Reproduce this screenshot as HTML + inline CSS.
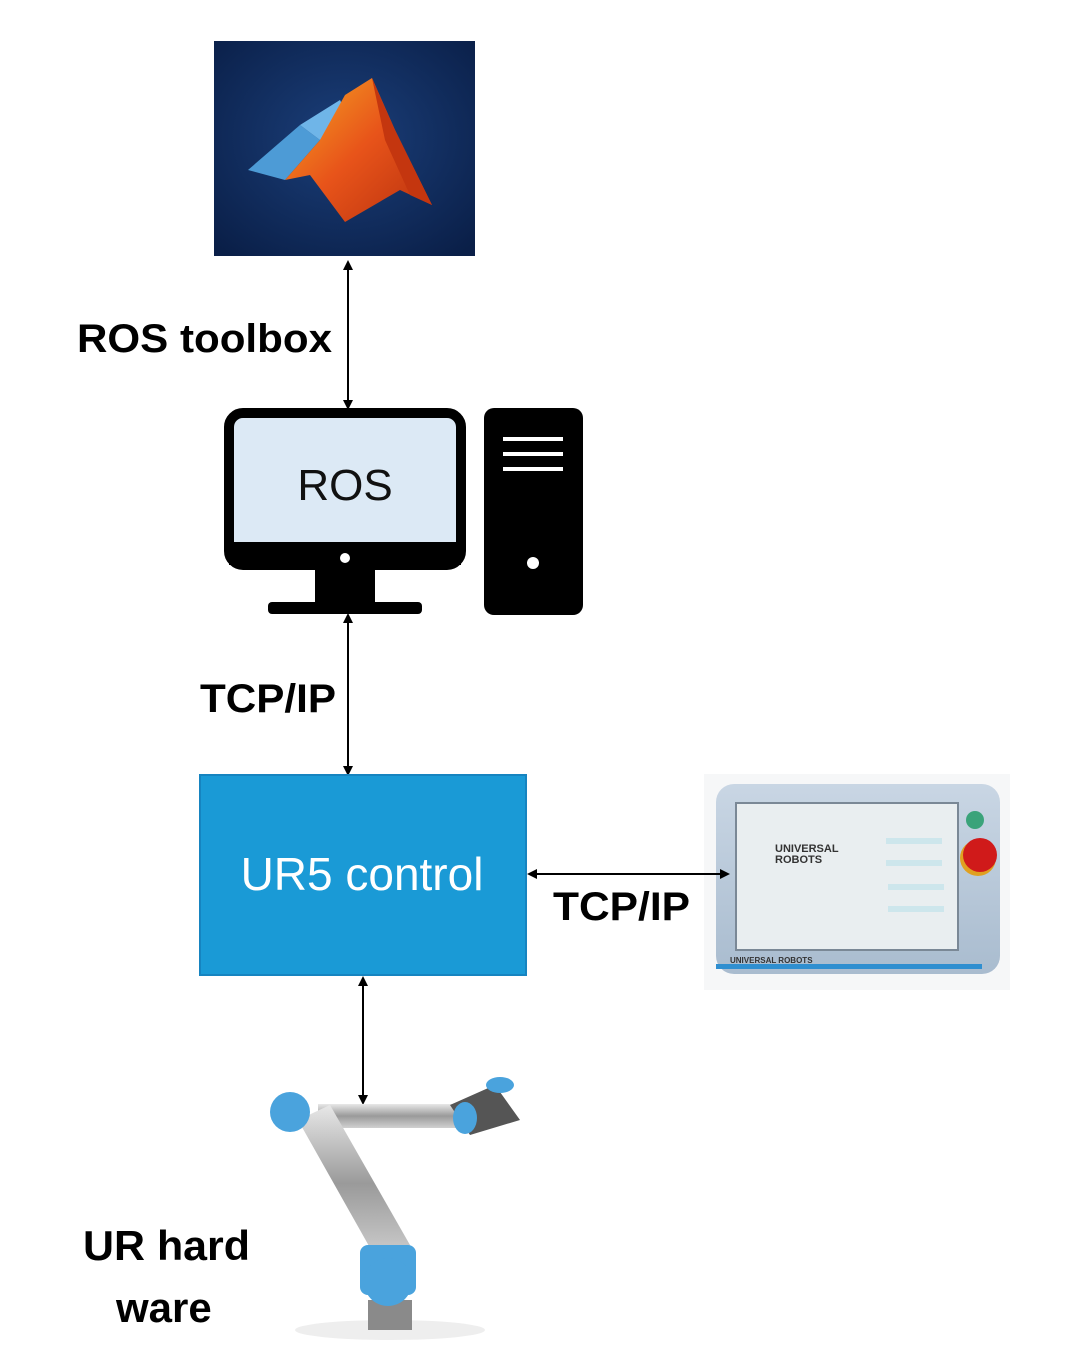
<!DOCTYPE html>
<html><head><meta charset="utf-8"><style>
html,body{margin:0;padding:0;background:#fff;}
svg{display:block;}
text{font-family:"Liberation Sans","DejaVu Sans",sans-serif;}
</style></head><body>
<svg width="1070" height="1368" viewBox="0 0 1070 1368" xmlns="http://www.w3.org/2000/svg">
<defs>
<marker id="ah" markerWidth="10" markerHeight="10" refX="8" refY="5" orient="auto-start-reverse" markerUnits="userSpaceOnUse">
<path d="M0,0 L10,5 L0,10 Z" fill="#000"/></marker>
<radialGradient id="bg" cx="0.5" cy="0.45" r="0.7"><stop offset="0" stop-color="#1b3f7a"/><stop offset="1" stop-color="#0a1f48"/></radialGradient>
<linearGradient id="org" x1="0" y1="0" x2="1" y2="1"><stop offset="0" stop-color="#f5a623"/><stop offset="0.5" stop-color="#e8541a"/><stop offset="1" stop-color="#b8300e"/></linearGradient>
<linearGradient id="metal" x1="0" y1="0" x2="0" y2="1"><stop offset="0" stop-color="#e8e8e8"/><stop offset="0.5" stop-color="#9a9a9a"/><stop offset="1" stop-color="#d0d0d0"/></linearGradient>
<linearGradient id="pend" x1="0" y1="0" x2="0" y2="1"><stop offset="0" stop-color="#c9d6e4"/><stop offset="1" stop-color="#a9bccf"/></linearGradient>
</defs>

<!-- MATLAB -->
<rect x="214" y="41" width="261" height="215" fill="url(#bg)"/>
<path d="M248,170 L300,125 L320,140 L285,180 Z" fill="#4d9bd6"/>
<path d="M300,125 L340,100 L350,120 L320,140 Z" fill="#6fb5e8"/>
<path d="M285,180 L320,140 L345,95 L372,78 L395,130 L432,205 L400,190 L345,222 L310,175 Z" fill="url(#org)"/>
<path d="M372,78 L395,130 L432,205 L410,195 L385,140 Z" fill="#c4360f"/>

<!-- arrow 1 -->
<line x1="348" y1="262" x2="348" y2="408" stroke="#000" stroke-width="2" marker-start="url(#ah)" marker-end="url(#ah)"/>
<text x="77" y="352" font-size="40" font-weight="bold" textLength="255" lengthAdjust="spacingAndGlyphs">ROS toolbox</text>

<!-- monitor -->
<rect x="229" y="413" width="232" height="152" rx="14" fill="#dce9f5" stroke="#000" stroke-width="10"/>
<rect x="229" y="542" width="232" height="23" fill="#000"/>
<circle cx="345" cy="558" r="5" fill="#fff"/>
<text x="345" y="500" font-size="44" text-anchor="middle" fill="#111">ROS</text>
<rect x="315" y="568" width="60" height="38" fill="#000"/>
<rect x="268" y="602" width="154" height="12" rx="4" fill="#000"/>
<!-- tower -->
<rect x="484" y="408" width="99" height="207" rx="10" fill="#000"/>
<rect x="503" y="437" width="60" height="4" fill="#fff"/>
<rect x="503" y="452" width="60" height="4" fill="#fff"/>
<rect x="503" y="467" width="60" height="4" fill="#fff"/>
<circle cx="533" cy="563" r="6" fill="#fff"/>

<!-- arrow 2 -->
<line x1="348" y1="615" x2="348" y2="774" stroke="#000" stroke-width="2" marker-start="url(#ah)" marker-end="url(#ah)"/>
<text x="200" y="712" font-size="40" font-weight="bold" textLength="136" lengthAdjust="spacingAndGlyphs">TCP/IP</text>

<!-- UR5 control -->
<rect x="200" y="775" width="326" height="200" fill="#1a9ad6" stroke="#1684c0" stroke-width="2"/>
<text x="362" y="890" font-size="46" text-anchor="middle" fill="#fff">UR5 control</text>

<!-- pendant -->
<rect x="704" y="774" width="306" height="216" fill="#f6f7f8"/>
<rect x="716" y="784" width="284" height="190" rx="18" fill="url(#pend)"/>
<rect x="736" y="803" width="222" height="147" fill="#e9eef0" stroke="#7a8896" stroke-width="2"/>
<text x="775" y="852" font-size="11" font-weight="bold" fill="#333">UNIVERSAL</text>
<text x="775" y="863" font-size="11" font-weight="bold" fill="#333">ROBOTS</text>
<rect x="886" y="838" width="56" height="6" fill="#cde6ec"/>
<rect x="886" y="860" width="56" height="6" fill="#cde6ec"/>
<rect x="888" y="884" width="56" height="6" fill="#cde6ec"/>
<rect x="888" y="906" width="56" height="6" fill="#cde6ec"/>
<circle cx="975" cy="820" r="9" fill="#3aa37a"/>
<circle cx="978" cy="858" r="18" fill="#e0a020"/>
<circle cx="980" cy="855" r="17" fill="#d01a1a"/>
<rect x="716" y="964" width="266" height="5" fill="#2f8fd0"/>
<text x="730" y="963" font-size="8" font-weight="bold" fill="#333">UNIVERSAL ROBOTS</text>

<!-- arrow 3 -->
<line x1="529" y1="874" x2="728" y2="874" stroke="#000" stroke-width="2" marker-start="url(#ah)" marker-end="url(#ah)"/>
<text x="553" y="920" font-size="40" font-weight="bold" textLength="137" lengthAdjust="spacingAndGlyphs">TCP/IP</text>

<!-- arrow 4 -->
<line x1="363" y1="978" x2="363" y2="1103" stroke="#000" stroke-width="2" marker-start="url(#ah)" marker-end="url(#ah)"/>

<!-- robot arm -->
<ellipse cx="390" cy="1330" rx="95" ry="10" fill="#eee"/>
<rect x="368" y="1300" width="44" height="30" fill="#8a8a8a"/>
<rect x="318" y="1104" width="140" height="24" fill="url(#metal)"/>
<path d="M298,1120 L330,1105 L410,1245 L378,1262 Z" fill="url(#metal)"/>
<path d="M450,1105 L495,1085 L520,1120 L470,1135 Z" fill="#555"/>
<circle cx="290" cy="1112" r="20" fill="#4aa3dd"/>
<ellipse cx="465" cy="1118" rx="12" ry="16" fill="#4aa3dd"/>
<ellipse cx="500" cy="1085" rx="14" ry="8" fill="#4aa3dd"/>
<rect x="360" y="1245" width="56" height="50" rx="8" fill="#4aa3dd"/>
<circle cx="388" cy="1282" r="24" fill="#4aa3dd"/>

<text x="83" y="1260" font-size="42" font-weight="bold" textLength="167" lengthAdjust="spacingAndGlyphs">UR hard</text>
<text x="116" y="1322" font-size="42" font-weight="bold">ware</text>
</svg>
</body></html>
